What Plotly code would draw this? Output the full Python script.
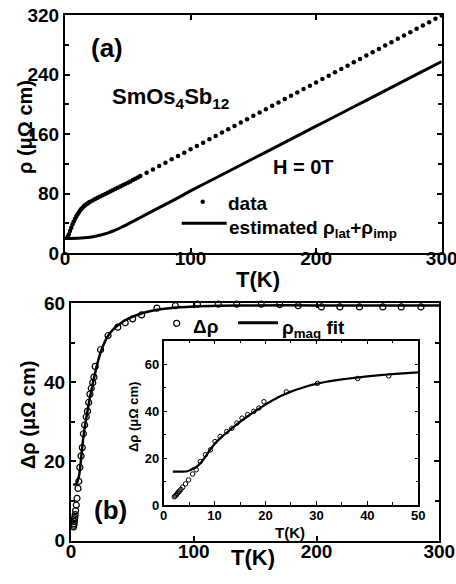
import plotly.graph_objects as go

W, H = 456, 584
FONT = "Liberation Sans, Arial, sans-serif"
WEIGHT = "bold"

# ---------------- data: panel (a) ----------------
T_data = [2, 3, 4, 5, 6, 7, 8, 9, 10, 11, 12, 13, 14, 15, 16, 17, 18, 19, 20,
          22, 24, 26, 28, 30, 32, 34, 36, 38, 40, 42, 44, 46, 48, 50, 52, 54, 56, 58, 60,
          65, 70, 75, 80, 85, 90, 95, 100, 105, 110, 115, 120, 125, 130, 135, 140,
          145, 150, 155, 160, 165, 170, 175, 180, 185, 190, 195, 200, 205, 210, 215,
          220, 225, 230, 235, 240, 245, 250, 255, 260, 265, 270, 275, 280, 285, 290,
          295, 300]
rho_data = [21.5, 25.0, 29.5, 34.0, 38.5, 42.5, 46.0, 49.0, 52.0, 54.5, 57.0, 59.0,
            61.0, 62.7, 64.2, 65.5, 66.7, 67.8, 68.8,
            70.7, 72.5, 74.2, 75.9, 77.6, 79.3, 81.0, 82.7, 84.4, 86.1, 87.8, 89.5,
            91.2, 92.9, 94.6, 96.3, 98.0, 99.8, 101.6, 103.4,
            107.9, 112.4, 116.9, 121.4, 125.9, 130.4, 134.9, 139.4, 143.9, 148.4,
            152.9, 157.4, 161.9, 166.4, 170.9, 175.4, 179.9, 184.4, 188.9, 193.4,
            197.9, 202.4, 206.9, 211.4, 215.9, 220.4, 224.9, 229.4, 233.9, 238.4,
            242.9, 247.4, 251.9, 256.4, 260.9, 265.4, 269.9, 274.4, 278.9, 283.4,
            287.9, 292.4, 296.9, 301.4, 305.9, 310.4, 314.9, 319.4]

T_lat = [0, 10, 20, 25, 30, 35, 40, 45, 50, 55, 60, 70, 80, 90, 100, 120, 140,
         160, 180, 200, 220, 240, 260, 280, 300]
rho_lat = [19.6, 19.9, 21.3, 22.8, 24.8, 27.5, 30.8, 34.6, 38.9, 43.3, 47.8, 56.6,
           65.4, 74.2, 83.5, 100.9, 118.3, 135.7, 153.1, 170.5, 187.9, 205.3,
           222.7, 240.1, 257.5]

# ---------------- data: panel (b) ----------------
T_drho = [2.1, 2.3, 2.5, 2.7, 2.9, 3.1, 3.4, 3.75, 4.3, 4.9, 5.7, 6.4, 7.2, 8.2,
          9.2, 10.1, 11.1, 12.4, 13.4, 14.4, 15.4, 16.5, 17.7, 18.7, 19.7, 24.1,
          30.2, 38.1, 44.2, 50.2, 57.5, 70, 85, 103, 120, 135, 155, 170, 185, 204,
          219, 235, 254, 269, 285]
drho = [3.5, 3.9, 4.3, 4.9, 5.5, 5.9, 6.6, 7.6, 9.0, 10.7, 13.2, 15.0, 18.5, 21.4,
        23.5, 27.0, 29.2, 31.3, 32.7, 34.9, 37.0, 38.5, 39.9, 41.3, 44.0, 48.2,
        51.8, 53.9, 55.0, 56.0, 57.0, 58.7, 59.3, 59.7, 59.7, 59.7, 59.7, 59.6,
        59.3, 59.0, 59.0, 59.0, 59.0, 59.0, 59.0]

T_fit = [1.8, 3, 4.6, 5.5, 6.5, 7.3, 8.2, 9.1, 10, 11.2, 12.4, 13.7, 15, 16.3,
         17.7, 19, 20, 21, 22, 23, 24, 25, 26, 28, 30, 32, 34, 36, 38, 41, 44, 47,
         50, 55, 60, 70, 80, 100, 120, 150, 200, 250, 300]
rho_fit = [14.2, 14.2, 14.4, 15.2, 16.3, 18.0, 20.6, 23.4, 26.0, 28.6, 30.9, 33.2,
           35.4, 37.5, 39.6, 41.4, 42.8, 44.1, 45.3, 46.4, 47.4, 48.3, 49.1, 50.5,
           51.6, 52.5, 53.2, 53.8, 54.3, 55.0, 55.6, 56.1, 56.5, 57.1, 57.6, 58.3,
           58.7, 59.1, 59.3, 59.4, 59.4, 59.4, 59.4]

# inset subset (T <= 50)
T_in = [t for t in T_drho if t <= 50.5]
d_in = [d for t, d in zip(T_drho, drho) if t <= 50.5]
Tf_in = [t for t in T_fit if t <= 50]
f_in = [f for t, f in zip(T_fit, rho_fit) if t <= 50]


def px(x):
    return x / W


def py(y):
    return 1 - y / H


fig = go.Figure()

# panel (a)
fig.add_trace(go.Scatter(x=T_lat, y=rho_lat, mode="lines",
                         line=dict(color="black", width=3, shape="spline", smoothing=0.6),
                         xaxis="x", yaxis="y", showlegend=False))
fig.add_trace(go.Scatter(x=T_data, y=rho_data, mode="markers",
                         marker=dict(color="black", size=4.5),
                         xaxis="x", yaxis="y", showlegend=False, cliponaxis=False))

# panel (b) main
fig.add_trace(go.Scatter(x=T_fit, y=rho_fit, mode="lines",
                         line=dict(color="black", width=2.5, shape="spline", smoothing=0.6),
                         xaxis="x2", yaxis="y2", showlegend=False))
fig.add_trace(go.Scatter(x=T_drho, y=drho, mode="markers",
                         marker=dict(symbol="circle-open", color="black", size=6,
                                     line=dict(width=1.2, color="black")),
                         xaxis="x2", yaxis="y2", showlegend=False, cliponaxis=False))

# inset
fig.add_trace(go.Scatter(x=Tf_in, y=f_in, mode="lines",
                         line=dict(color="black", width=2.2, shape="spline", smoothing=0.6),
                         xaxis="x3", yaxis="y3", showlegend=False))
fig.add_trace(go.Scatter(x=T_in, y=d_in, mode="markers",
                         marker=dict(symbol="circle-open", color="black", size=4.5,
                                     line=dict(width=1, color="black")),
                         xaxis="x3", yaxis="y3", showlegend=False, cliponaxis=False))

axis_common = dict(showline=True, linecolor="black", mirror="ticks", ticks="inside",
                   tickcolor="black", showgrid=False, zeroline=False,
                   automargin=False, fixedrange=True)


def tf(size):
    return dict(size=size, family=FONT, color="black", weight=WEIGHT)


fig.update_layout(
    width=W, height=H,
    margin=dict(l=0, r=0, t=0, b=0),
    paper_bgcolor="white", plot_bgcolor="rgba(0,0,0,0)",
    font=dict(family=FONT, color="black", weight=WEIGHT),
    showlegend=False,
    xaxis=dict(domain=[px(65), px(441.7)], range=[0, 300], anchor="y",
               tickvals=[0, 100, 200, 300], ticklen=5, tickwidth=1.5, linewidth=2,
               ticklabelstandoff=-13, ticklabeloverflow="allow",
               tickfont=tf(19), **axis_common),
    yaxis=dict(domain=[py(253), py(15)], range=[0, 320], anchor="x",
               tickvals=[0, 80, 160, 240, 320], ticklen=5, tickwidth=1.5, linewidth=2,
               minor=dict(dtick=40, ticks="inside", ticklen=4, tickcolor="black"),
               tickfont=tf(19), **axis_common),
    xaxis2=dict(domain=[px(71), px(439.3)], range=[0, 300], anchor="y2",
                tickvals=[0, 100, 200, 300], ticklen=5, tickwidth=1.5, linewidth=2,
                ticklabelstandoff=-8, ticklabeloverflow="allow",
                tickfont=tf(19), **axis_common),
    yaxis2=dict(domain=[py(540.7), py(303)], range=[0, 60], anchor="x2",
                tickvals=[0, 20, 40, 60], ticklen=5, tickwidth=1.5, linewidth=2,
                minor=dict(dtick=10, ticks="inside", ticklen=4, tickcolor="black"),
                tickfont=tf(19), **axis_common),
    xaxis3=dict(domain=[px(163.6), px(418.3)], range=[0, 50], anchor="y3",
                tickvals=[0, 10, 20, 30, 40, 50], ticklen=4, tickwidth=1.2, linewidth=1.5,
                minor=dict(dtick=5, ticks="inside", ticklen=3, tickcolor="black"),
                ticklabelstandoff=-2, tickfont=tf(13), **axis_common),
    yaxis3=dict(domain=[py(505), py(340.7)], range=[0, 70], anchor="x3",
                tickvals=[0, 20, 40, 60], ticklen=4, tickwidth=1.2, linewidth=1.5,
                minor=dict(dtick=10, ticks="inside", ticklen=3, tickcolor="black"),
                tickfont=tf(13), **axis_common),
)


def ann(text, x, y, size, xanchor="center", yanchor="middle", angle=0):
    fig.add_annotation(text=text, x=px(x), y=py(y), xref="paper", yref="paper",
                       xanchor=xanchor, yanchor=yanchor, showarrow=False,
                       textangle=angle, font=tf(size))


# panel (a) texts
ann("(a)", 107, 48, 26)
ann("SmOs<sub>4</sub>Sb<sub>12</sub>", 110, 98, 22, xanchor="left")
ann("H = 0T", 303, 167, 20)
ann("ρ (μΩ cm)", 25, 127, 20, angle=-90)
ann("T(K)", 258, 280, 22)
# legend (a)
fig.add_shape(type="circle", xref="paper", yref="paper",
              x0=px(200.5), x1=px(204.9), y0=py(199.5), y1=py(203.9),
              fillcolor="black", line=dict(color="black", width=0))
ann("data", 226, 203, 19, xanchor="left")
fig.add_shape(type="line", xref="paper", yref="paper",
              x0=px(181.7), x1=px(226.7), y0=py(223.3), y1=py(223.3),
              line=dict(color="black", width=3))
ann("estimated ρ<sub>lat</sub>+ρ<sub>imp</sub>", 227, 229, 19, xanchor="left")

# panel (b) texts
ann("(b)", 110, 510, 26)
ann("Δρ (μΩ cm)", 28, 415, 20, angle=-90)
ann("T(K)", 253, 557, 22)
ann("Δρ (μΩ cm)", 133, 417, 13, angle=-90)
ann("T(K)", 290, 532, 15)
# legend (b)
fig.add_shape(type="circle", xref="paper", yref="paper",
              x0=px(173.7), x1=px(179.7), y0=py(320.3), y1=py(326.3),
              fillcolor="rgba(0,0,0,0)", line=dict(color="black", width=1.2))
ann("Δρ", 191, 326, 19, xanchor="left")
fig.add_shape(type="line", xref="paper", yref="paper",
              x0=px(238), x1=px(278), y0=py(322.7), y1=py(322.7),
              line=dict(color="black", width=3))
ann("ρ<sub>mag</sub> fit", 280, 329, 19, xanchor="left")

fig.write_html("out.html")
